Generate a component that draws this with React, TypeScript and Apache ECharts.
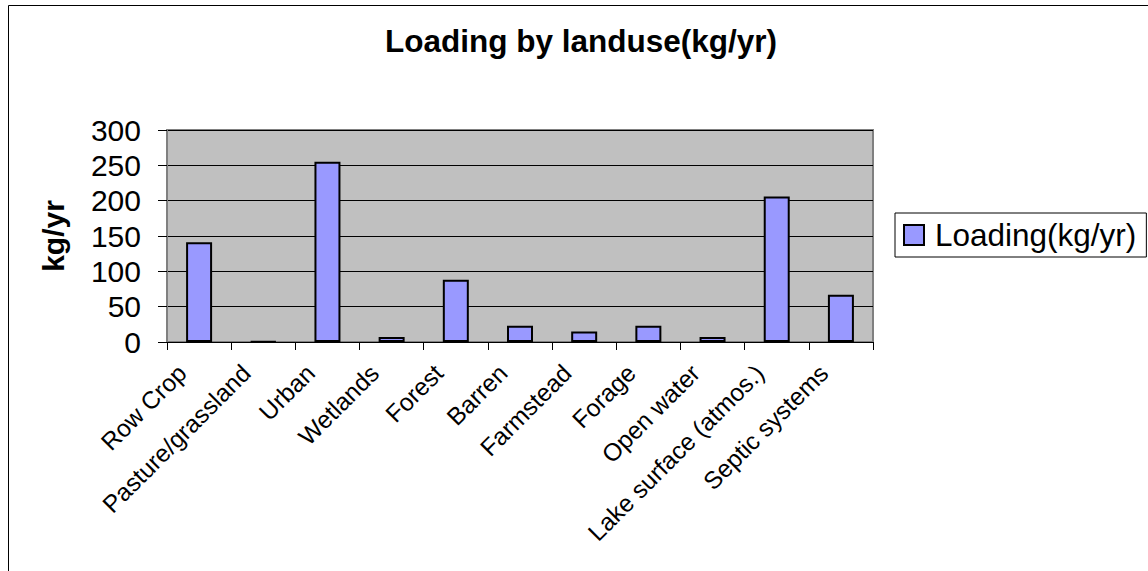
import React, { useEffect, useRef } from "react";
import * as echarts from "echarts";

const categories = [
  "Row Crop",
  "Pasture/grassland",
  "Urban",
  "Wetlands",
  "Forest",
  "Barren",
  "Farmstead",
  "Forage",
  "Open water",
  "Lake surface (atmos.)",
  "Septic systems",
];
const loadingValues = [141, 1, 255, 7, 88, 23, 15, 23, 7, 206, 67];
const yTicks = { min: 0, max: 300, interval: 50 };
const seriesName = "Loading(kg/yr)";
const chartTitle = "Loading by landuse(kg/yr)";
const yAxisTitle = "kg/yr";

const FONT = "'Liberation Sans', Arial, sans-serif";

export default function App() {
  const ref = useRef<HTMLDivElement>(null);
  useEffect(() => {
    if (!ref.current) return;
    const chart = echarts.init(ref.current, null, { renderer: "svg" });
    chart.setOption({
      animation: false,
      backgroundColor: "#ffffff",
      title: {
        text: chartTitle,
        left: 385,
        top: 25,
        padding: 0,
        textStyle: { fontFamily: FONT, fontSize: 31.5, fontWeight: "bold", color: "#000" },
      },
      legend: {
        left: 895,
        top: 213,
        orient: "vertical",
        padding: [6, 10, 6, 8],
        itemWidth: 20,
        itemHeight: 20,
        borderColor: "#000",
        borderWidth: 1,
        backgroundColor: "#fff",
        icon: "rect",
        textStyle: { fontFamily: FONT, fontSize: 31.5, color: "#000", padding: [0, 0, 0, 6] },
        data: [seriesName],
      },
      grid: {
        left: 167,
        top: 130,
        width: 706,
        height: 212,
        show: true,
        backgroundColor: "#C0C0C0",
        borderColor: "#808080",
        borderWidth: 2,
        containLabel: false,
      },
      xAxis: {
        type: "category",
        data: categories,
        boundaryGap: true,
        axisLine: { show: true, lineStyle: { color: "#000", width: 1 } },
        axisTick: { show: true, length: 8, lineStyle: { color: "#000" } },
        axisLabel: {
          interval: 0,
          rotate: 45,
          margin: 10,
          padding: [0, 24, 0, 0],
          fontFamily: FONT,
          fontSize: 24.5,
          color: "#000",
        },
        splitLine: { show: false },
      },
      yAxis: {
        type: "value",
        min: yTicks.min,
        max: yTicks.max,
        interval: yTicks.interval,
        name: yAxisTitle,
        nameLocation: "middle",
        nameRotate: 90,
        nameGap: 99,
        nameTextStyle: { fontFamily: FONT, fontSize: 30, fontWeight: "bold", color: "#000" },
        axisLine: { show: true, lineStyle: { color: "#808080", width: 2 } },
        axisTick: { show: true, length: 9, lineStyle: { color: "#000" } },
        axisLabel: { margin: 26, fontFamily: FONT, fontSize: 30, color: "#000" },
        splitLine: { show: true, lineStyle: { color: "#000", width: 1 } },
      },
      series: [
        {
          name: seriesName,
          type: "bar",
          data: loadingValues,
          barWidth: 26,
          itemStyle: { color: "#9999FF", borderColor: "#000", borderWidth: 2 },
        },
      ],
      graphic: [
        {
          type: "rect",
          shape: { x: 8.5, y: 5.5, width: 1300, height: 700 },
          style: { fill: "none", stroke: "#000", lineWidth: 1 },
          silent: true,
          z: 100,
        },
      ],
    });
    return () => chart.dispose();
  }, []);
  return (
    <div
      ref={ref}
      style={{ position: "fixed", left: 0, top: 0, width: 1148, height: 571 }}
    />
  );
}
